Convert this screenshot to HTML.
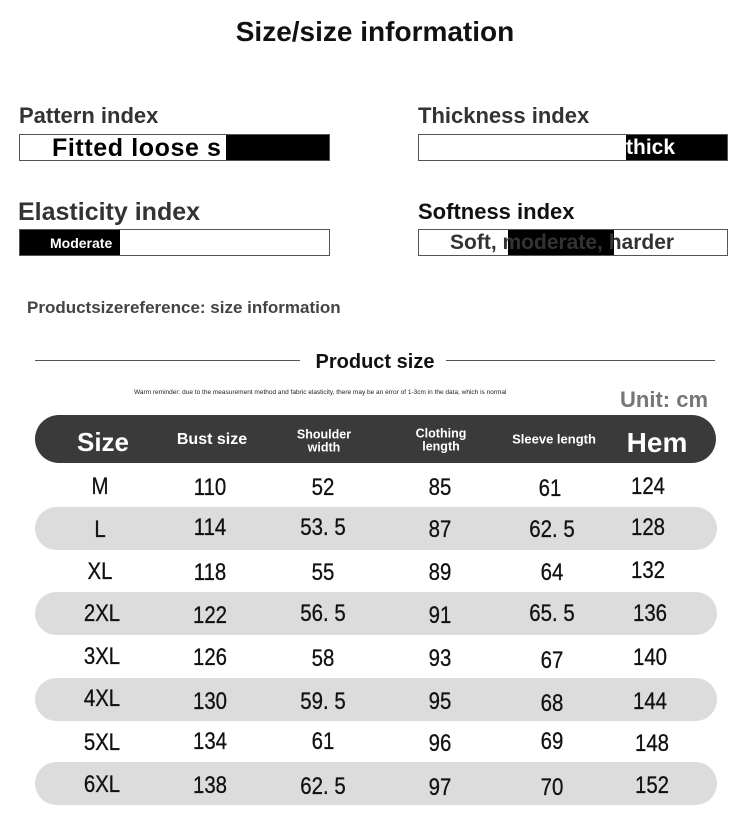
<!DOCTYPE html>
<html><head><style>
*{margin:0;padding:0;box-sizing:border-box}
body{width:750px;height:827px;background:#fff;position:relative;font-family:"Liberation Sans",sans-serif;overflow:hidden}
.a{position:absolute;white-space:nowrap}
.b{font-weight:bold}
.box{position:absolute;border:1.5px solid #555;background:#fff;overflow:hidden;height:27px}
.blk{position:absolute;top:0;height:100%;background:#000}
.row{position:absolute;left:35px;width:682px;height:43px;border-radius:22px;background:#dcdcdc}
.c{position:absolute;transform:translate(-50%,-50%) scaleX(0.85);font-size:24px;color:#111;white-space:nowrap;-webkit-text-stroke:0.3px #111}
.h{position:absolute;transform:translate(-50%,-50%);color:#fff;font-weight:bold;text-align:center;line-height:1.0;white-space:nowrap}
</style></head><body>
<div class="a b" style="left:0;width:750px;text-align:center;top:16px;font-size:28px;color:#111">Size/size information</div>

<div class="a b" style="left:19px;top:103px;font-size:22px;color:#333">Pattern index</div>
<div class="box" style="left:19px;top:134px;width:311px"><div class="a b" style="left:32px;top:-1px;font-size:25px;letter-spacing:0.6px;color:#000">Fitted loose s</div><div class="blk" style="left:206px;width:110px"></div></div>

<div class="a b" style="left:418px;top:103px;font-size:22px;color:#333">Thickness index</div>
<div class="box" style="left:418px;top:134px;width:310px"><div class="blk" style="left:207px;width:110px"></div><div class="a b" style="left:207px;top:1px;font-size:21px;color:#fff">thick</div></div>

<div class="a b" style="left:18px;top:198px;font-size:25px;color:#333">Elasticity index</div>
<div class="box" style="left:19px;top:229px;width:311px"><div class="blk" style="left:0;width:100px"></div><div class="a b" style="left:30px;top:5px;font-size:14px;color:#fff">Moderate</div></div>

<div class="a b" style="left:418px;top:199px;font-size:22px;color:#111">Softness index</div>
<div class="box" style="left:418px;top:229px;width:310px"><div class="blk" style="left:89px;width:106px"></div><div class="a b" style="left:31px;top:1px;font-size:21px;color:#333">Soft, moderate, harder</div></div>

<div class="a b" style="left:27px;top:298px;font-size:17px;color:#444">Productsizereference: size information</div>

<div class="a" style="left:35px;top:360px;width:265px;height:1px;background:#555"></div>
<div class="a" style="left:446px;top:360px;width:269px;height:1px;background:#555"></div>
<div class="a b" style="left:0;width:750px;text-align:center;top:351px;font-size:20px;color:#111">Product size</div>
<div class="a" style="left:134px;top:389px;font-size:6.5px;color:#222">Warm reminder: due to the measurement method and fabric elasticity, there may be an error of 1-3cm in the data, which is normal</div>
<div class="a b" style="left:620px;top:387px;font-size:22px;color:#777">Unit: cm</div>

<div class="a" style="left:35px;top:415px;width:681px;height:48px;border-radius:24px;background:#3a3a3a"></div>
<div class="h" style="left:103px;top:442px;font-size:26px">Size</div>
<div class="h" style="left:212px;top:440px;font-size:16px">Bust size</div>
<div class="h" style="left:324px;top:441px;font-size:12.5px">Shoulder<br>width</div>
<div class="h" style="left:441px;top:440px;font-size:12.5px">Clothing<br>length</div>
<div class="h" style="left:554px;top:439px;font-size:13px">Sleeve length</div>
<div class="h" style="left:657px;top:443px;font-size:28px">Hem</div>

<div class="row" style="top:507px"></div>
<div class="row" style="top:592px"></div>
<div class="row" style="top:678px"></div>
<div class="row" style="top:762px"></div>

<div class="c" style="left:100px;top:487px">M</div><div class="c" style="left:210px;top:488px">110</div><div class="c" style="left:323px;top:488px">52</div><div class="c" style="left:440px;top:488px">85</div><div class="c" style="left:550px;top:489px">61</div><div class="c" style="left:648px;top:487px">124</div>
<div class="c" style="left:100px;top:530px">L</div><div class="c" style="left:210px;top:528px">114</div><div class="c" style="left:323px;top:528px">53. 5</div><div class="c" style="left:440px;top:530px">87</div><div class="c" style="left:552px;top:530px">62. 5</div><div class="c" style="left:648px;top:528px">128</div>
<div class="c" style="left:100px;top:572px">XL</div><div class="c" style="left:210px;top:573px">118</div><div class="c" style="left:323px;top:573px">55</div><div class="c" style="left:440px;top:573px">89</div><div class="c" style="left:552px;top:573px">64</div><div class="c" style="left:648px;top:571px">132</div>
<div class="c" style="left:102px;top:614px">2XL</div><div class="c" style="left:210px;top:616px">122</div><div class="c" style="left:323px;top:614px">56. 5</div><div class="c" style="left:440px;top:616px">91</div><div class="c" style="left:552px;top:614px">65. 5</div><div class="c" style="left:650px;top:614px">136</div>
<div class="c" style="left:102px;top:657px">3XL</div><div class="c" style="left:210px;top:658px">126</div><div class="c" style="left:323px;top:659px">58</div><div class="c" style="left:440px;top:659px">93</div><div class="c" style="left:552px;top:661px">67</div><div class="c" style="left:650px;top:658px">140</div>
<div class="c" style="left:102px;top:699px">4XL</div><div class="c" style="left:210px;top:702px">130</div><div class="c" style="left:323px;top:702px">59. 5</div><div class="c" style="left:440px;top:702px">95</div><div class="c" style="left:552px;top:704px">68</div><div class="c" style="left:650px;top:702px">144</div>
<div class="c" style="left:102px;top:743px">5XL</div><div class="c" style="left:210px;top:742px">134</div><div class="c" style="left:323px;top:742px">61</div><div class="c" style="left:440px;top:744px">96</div><div class="c" style="left:552px;top:742px">69</div><div class="c" style="left:652px;top:744px">148</div>
<div class="c" style="left:102px;top:785px">6XL</div><div class="c" style="left:210px;top:786px">138</div><div class="c" style="left:323px;top:787px">62. 5</div><div class="c" style="left:440px;top:788px">97</div><div class="c" style="left:552px;top:788px">70</div><div class="c" style="left:652px;top:786px">152</div>
</body></html>
